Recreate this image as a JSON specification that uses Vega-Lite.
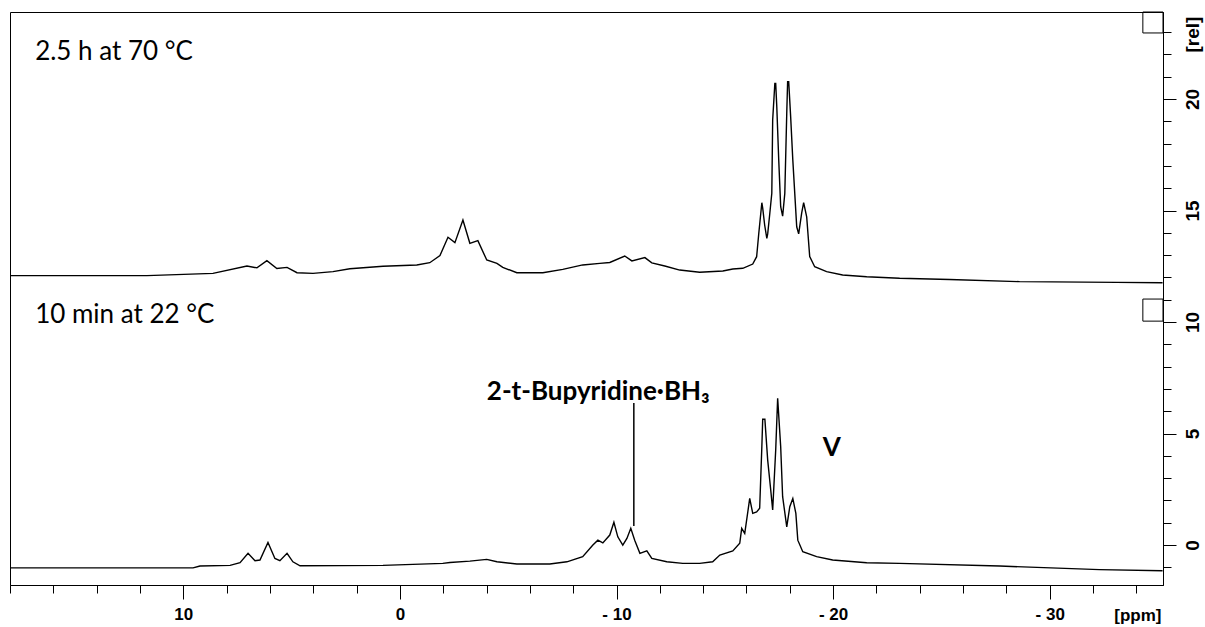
{
  "$schema": "https://vega.github.io/schema/vega-lite/v6.json",
  "width": 1153,
  "height": 573,
  "autosize": {"type": "none"},
  "padding": {"left": 10, "top": 12, "right": 42, "bottom": 42},
  "background": "white",
  "config": {
    "view": {"stroke": "black", "strokeWidth": 1},
    "axis": {"domainColor": "black", "tickColor": "black", "labelColor": "black", "titleColor": "black", "labelFont": "Liberation Sans", "labelFontWeight": "bold", "labelFontSize": 17, "titleFont": "Liberation Sans", "titleFontWeight": "bold", "titleFontSize": 17, "grid": false, "labelOverlap": false, "labelFlush": false}
  },
  "datasets": {
    "top": [
      {"ppm": 18.00, "val": 12.08}, {"ppm": 11.68, "val": 12.08}, {"ppm": 8.63, "val": 12.18}, {"ppm": 7.06, "val": 12.51}, {"ppm": 6.60, "val": 12.43}, {"ppm": 6.14, "val": 12.75}, {"ppm": 5.68, "val": 12.40}, {"ppm": 5.21, "val": 12.45}, {"ppm": 4.75, "val": 12.21}, {"ppm": 4.01, "val": 12.18}, {"ppm": 3.09, "val": 12.26}, {"ppm": 2.31, "val": 12.39}, {"ppm": 0.78, "val": 12.50}, {"ppm": -0.78, "val": 12.56}, {"ppm": -1.38, "val": 12.66}, {"ppm": -1.85, "val": 12.98}, {"ppm": -2.22, "val": 13.80}, {"ppm": -2.54, "val": 13.56}, {"ppm": -2.91, "val": 14.57}, {"ppm": -3.23, "val": 13.53}, {"ppm": -3.60, "val": 13.65}, {"ppm": -4.01, "val": 12.78}, {"ppm": -4.48, "val": 12.63}, {"ppm": -4.75, "val": 12.45}, {"ppm": -5.40, "val": 12.21}, {"ppm": -6.60, "val": 12.21}, {"ppm": -7.52, "val": 12.36}, {"ppm": -8.44, "val": 12.56}, {"ppm": -9.23, "val": 12.63}, {"ppm": -9.69, "val": 12.67}, {"ppm": -10.38, "val": 12.96}, {"ppm": -10.71, "val": 12.74}, {"ppm": -11.31, "val": 12.89}, {"ppm": -11.63, "val": 12.65}, {"ppm": -12.23, "val": 12.51}, {"ppm": -12.92, "val": 12.33}, {"ppm": -13.84, "val": 12.23}, {"ppm": -14.91, "val": 12.29}, {"ppm": -15.37, "val": 12.38}, {"ppm": -15.83, "val": 12.41}, {"ppm": -16.29, "val": 12.60}, {"ppm": -16.47, "val": 12.93}, {"ppm": -16.57, "val": 13.99}, {"ppm": -16.71, "val": 15.35}, {"ppm": -16.75, "val": 15.11}, {"ppm": -16.84, "val": 14.35}, {"ppm": -16.94, "val": 13.75}, {"ppm": -16.98, "val": 13.95}, {"ppm": -17.07, "val": 14.80}, {"ppm": -17.17, "val": 15.77}, {"ppm": -17.21, "val": 19.06}, {"ppm": -17.31, "val": 20.70}, {"ppm": -17.35, "val": 20.70}, {"ppm": -17.40, "val": 19.65}, {"ppm": -17.49, "val": 17.26}, {"ppm": -17.58, "val": 15.17}, {"ppm": -17.67, "val": 14.75}, {"ppm": -17.77, "val": 15.77}, {"ppm": -17.86, "val": 19.36}, {"ppm": -17.90, "val": 20.78}, {"ppm": -17.95, "val": 20.78}, {"ppm": -18.04, "val": 19.21}, {"ppm": -18.14, "val": 17.26}, {"ppm": -18.32, "val": 14.27}, {"ppm": -18.41, "val": 13.95}, {"ppm": -18.55, "val": 14.89}, {"ppm": -18.64, "val": 15.35}, {"ppm": -18.78, "val": 14.72}, {"ppm": -18.92, "val": 12.93}, {"ppm": -19.15, "val": 12.48}, {"ppm": -19.70, "val": 12.26}, {"ppm": -20.44, "val": 12.11}, {"ppm": -21.55, "val": 12.03}, {"ppm": -23.07, "val": 11.96}, {"ppm": -25.38, "val": 11.91}, {"ppm": -28.61, "val": 11.81}, {"ppm": -33.09, "val": 11.78}, {"ppm": -35.21, "val": 11.76}
    ],
    "bottom": [
      {"ppm": 18.00, "val": -1.02}, {"ppm": 9.55, "val": -1.02}, {"ppm": 9.23, "val": -0.94}, {"ppm": 7.84, "val": -0.91}, {"ppm": 7.38, "val": -0.79}, {"ppm": 7.01, "val": -0.37}, {"ppm": 6.69, "val": -0.70}, {"ppm": 6.46, "val": -0.67}, {"ppm": 6.09, "val": 0.12}, {"ppm": 5.77, "val": -0.60}, {"ppm": 5.54, "val": -0.70}, {"ppm": 5.21, "val": -0.37}, {"ppm": 4.94, "val": -0.75}, {"ppm": 4.61, "val": -0.93}, {"ppm": 0.78, "val": -0.91}, {"ppm": -1.98, "val": -0.82}, {"ppm": -2.31, "val": -0.78}, {"ppm": -3.23, "val": -0.72}, {"ppm": -4.01, "val": -0.64}, {"ppm": -4.48, "val": -0.75}, {"ppm": -5.40, "val": -0.85}, {"ppm": -6.92, "val": -0.85}, {"ppm": -7.71, "val": -0.75}, {"ppm": -8.44, "val": -0.52}, {"ppm": -8.91, "val": 0.00}, {"ppm": -9.14, "val": 0.22}, {"ppm": -9.37, "val": 0.10}, {"ppm": -9.69, "val": 0.45}, {"ppm": -9.88, "val": 1.02}, {"ppm": -10.06, "val": 0.37}, {"ppm": -10.29, "val": 0.00}, {"ppm": -10.48, "val": 0.30}, {"ppm": -10.66, "val": 0.75}, {"ppm": -10.84, "val": 0.22}, {"ppm": -11.08, "val": -0.37}, {"ppm": -11.40, "val": -0.26}, {"ppm": -11.63, "val": -0.60}, {"ppm": -12.32, "val": -0.75}, {"ppm": -13.06, "val": -0.82}, {"ppm": -13.84, "val": -0.82}, {"ppm": -14.44, "val": -0.75}, {"ppm": -14.77, "val": -0.45}, {"ppm": -15.37, "val": -0.26}, {"ppm": -15.69, "val": 0.08}, {"ppm": -15.78, "val": 0.75}, {"ppm": -15.92, "val": 0.52}, {"ppm": -16.15, "val": 2.09}, {"ppm": -16.29, "val": 1.42}, {"ppm": -16.47, "val": 1.49}, {"ppm": -16.61, "val": 1.65}, {"ppm": -16.71, "val": 4.41}, {"ppm": -16.75, "val": 5.64}, {"ppm": -16.85, "val": 5.64}, {"ppm": -16.98, "val": 3.81}, {"ppm": -17.12, "val": 2.47}, {"ppm": -17.21, "val": 1.57}, {"ppm": -17.35, "val": 4.26}, {"ppm": -17.44, "val": 6.58}, {"ppm": -17.58, "val": 4.41}, {"ppm": -17.67, "val": 2.17}, {"ppm": -17.86, "val": 0.82}, {"ppm": -18.00, "val": 1.72}, {"ppm": -18.14, "val": 2.09}, {"ppm": -18.28, "val": 1.42}, {"ppm": -18.37, "val": 0.22}, {"ppm": -18.60, "val": -0.30}, {"ppm": -19.24, "val": -0.52}, {"ppm": -19.98, "val": -0.67}, {"ppm": -21.55, "val": -0.79}, {"ppm": -23.07, "val": -0.82}, {"ppm": -27.69, "val": -0.94}, {"ppm": -32.30, "val": -1.10}, {"ppm": -35.21, "val": -1.15}
    ],
    "boxes": [
      {"ppm": -34.30, "ppm2": -35.23, "val": 23.90, "val2": 22.96},
      {"ppm": -34.30, "ppm2": -35.23, "val": 11.03, "val2": 10.04}
    ],
    "pointer": [{"ppm": -10.8, "val": 0.85, "val2": 6.37}],
    "notes": [
      {"ppm": 16.84, "val": 21.75, "text": "2.5 h at 70 °C"},
      {"ppm": 16.84, "val": 9.96, "text": "10 min at 22 °C"}
    ],
    "bold": [
      {"ppm": -9.16, "val": 6.50, "text": "2-t-Bupyridine·BH₃"},
      {"ppm": -19.94, "val": 3.99, "text": "V"}
    ]
  },
  "encoding": {
    "x": {
      "field": "ppm", "type": "quantitative",
      "scale": {"domain": [-35.23, 18], "reverse": true, "nice": false, "zero": false},
      "axis": {
        "orient": "bottom",
        "values": [18, 16, 14, 12, 10, 8, 6, 4, 2, 0, -2, -4, -6, -8, -10, -12, -14, -16, -18, -20, -22, -24, -26, -28, -30, -32, -34],
        "labelExpr": "datum.value % 10 === 0 ? (datum.value < 0 ? '- ' + abs(datum.value) : '' + datum.value) : ''",
        "tickSize": {"condition": {"test": "datum.value % 10 === 0", "value": 14}, "value": 8},
        "labelPadding": 7,
        "title": "[ppm]",
        "titleX": 1151, "titleY": 35, "titleAlign": "right", "titleBaseline": "alphabetic", "titleAnchor": null
      }
    },
    "y": {
      "field": "val", "type": "quantitative",
      "scale": {"domain": [-1.79, 23.9], "nice": false, "zero": false},
      "axis": {
        "orient": "right",
        "values": [-1, 0, 1, 2, 3, 4, 5, 6, 7, 8, 9, 10, 11, 12, 13, 14, 15, 16, 17, 18, 19, 20, 21, 22, 23],
        "labelExpr": "datum.value % 5 === 0 ? '' + datum.value : ''",
        "tickSize": {"condition": {"test": "datum.value % 5 === 0", "value": 13}, "value": 8},
        "labelAngle": 270, "labelAlign": "center", "labelBaseline": "middle", "labelPadding": 16, "labelFontSize": 19,
        "title": "[rel]", "titleFontSize": 19, "titleAngle": 270, "titleX": 29, "titleY": 22, "titleAlign": "center", "titleBaseline": "middle", "titleAnchor": null
      }
    }
  },
  "layer": [
    {"data": {"name": "top"}, "mark": {"type": "line", "color": "black", "strokeWidth": 1.4}},
    {"data": {"name": "bottom"}, "mark": {"type": "line", "color": "black", "strokeWidth": 1.4}},
    {"data": {"name": "boxes"}, "mark": {"type": "rect", "fill": null, "stroke": "black", "strokeWidth": 1}, "encoding": {"x2": {"field": "ppm2"}, "y2": {"field": "val2"}}},
    {"data": {"name": "pointer"}, "mark": {"type": "rule", "color": "black", "strokeWidth": 1.5}, "encoding": {"y2": {"field": "val2"}}},
    {"data": {"name": "notes"}, "mark": {"type": "text", "font": "Lato", "fontSize": 26, "align": "left", "baseline": "alphabetic", "color": "black"}, "encoding": {"text": {"field": "text"}}},
    {"data": {"name": "bold"}, "mark": {"type": "text", "font": "Lato", "fontSize": 26, "fontWeight": "bold", "align": "center", "baseline": "alphabetic", "color": "black"}, "encoding": {"text": {"field": "text"}}}
  ]
}
